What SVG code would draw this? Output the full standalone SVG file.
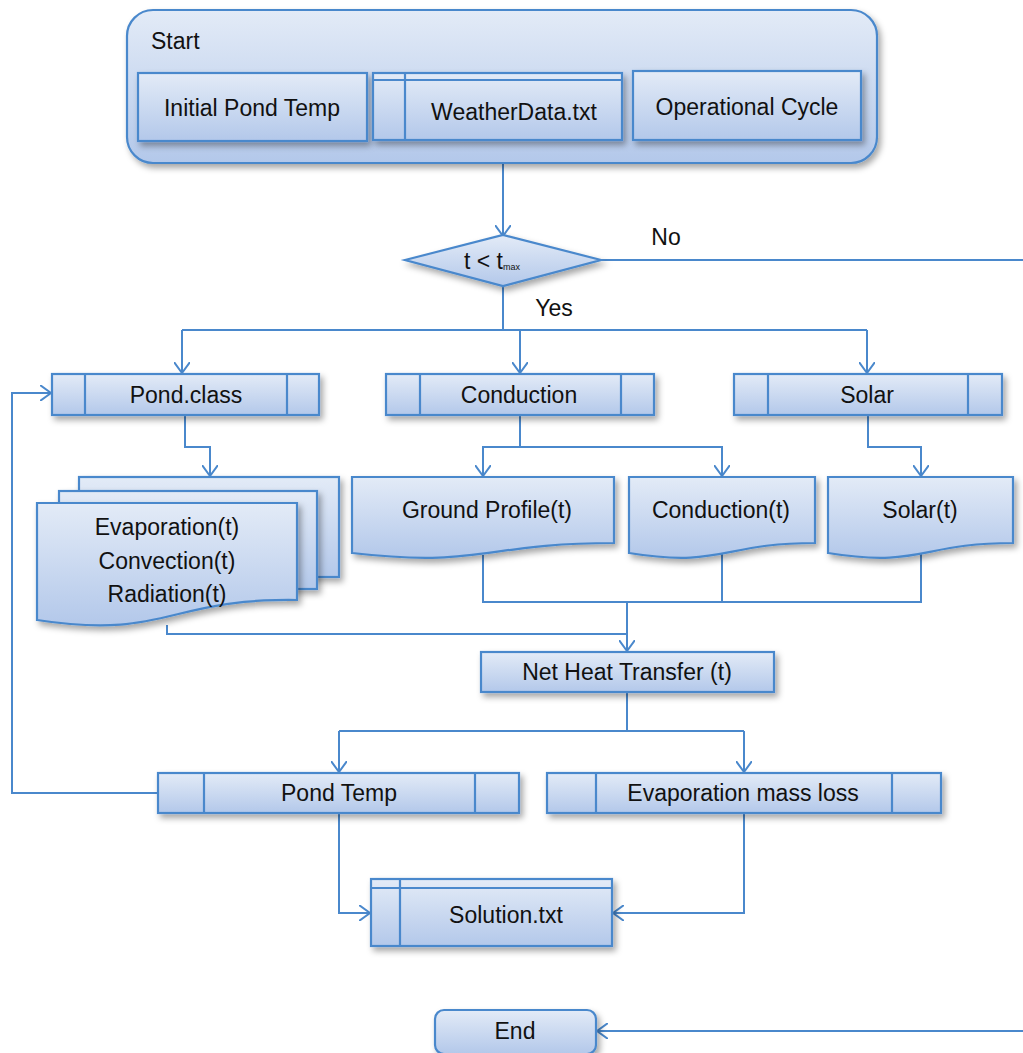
<svg xmlns="http://www.w3.org/2000/svg" width="1023" height="1053" viewBox="0 0 1023 1053">
<defs>
<linearGradient id="g" x1="0" y1="0" x2="0" y2="1">
<stop offset="0" stop-color="#e3ebf7"/>
<stop offset="1" stop-color="#b3c8ea"/>
</linearGradient>
<filter id="sh" x="-10%" y="-20%" width="130%" height="150%">
<feDropShadow dx="3" dy="4" stdDeviation="3" flood-color="#000" flood-opacity="0.35"/>
</filter>
<marker id="arr" viewBox="0 0 12 16" refX="11" refY="8" markerWidth="12" markerHeight="16" markerUnits="userSpaceOnUse" orient="auto">
<path d="M0,0 L11,8 L0,16" fill="none" stroke="#4a88cc" stroke-width="2"/>
</marker>
</defs>
<style>
.s{fill:url(#g);stroke:#4a88cc;stroke-width:2.2;filter:url(#sh)}
.l{fill:none;stroke:#4a88cc;stroke-width:2.2}
.c{fill:none;stroke:#4a88cc;stroke-width:2}
.t{font-family:"Liberation Sans",Arial,sans-serif;font-size:23px;fill:#111;text-anchor:middle}
</style>
<rect width="1023" height="1053" fill="#fff"/>

<g id="connectors" class="c">
<path d="M503,163 V236" marker-end="url(#arr)"/>
<path d="M601,260 H1024 V1031 H597" marker-end="url(#arr)"/>
<path d="M503,286 V330"/>
<path d="M182,330 H867"/>
<path d="M182,330 V373" marker-end="url(#arr)"/>
<path d="M520,330 V373" marker-end="url(#arr)"/>
<path d="M867,330 V373" marker-end="url(#arr)"/>
<path d="M185,415 V447 H210 V476" marker-end="url(#arr)"/>
<path d="M520,415 V447 H483 V476" marker-end="url(#arr)"/>
<path d="M520,447 H722 V476" marker-end="url(#arr)"/>
<path d="M868,415 V447 H921 V476" marker-end="url(#arr)"/>
<path d="M483,555 V602 H921 V545"/>
<path d="M722,545 V602"/>
<path d="M627,602 V651" marker-end="url(#arr)"/>
<path d="M167,625 V634 H627"/>
<path d="M627,692 V731"/>
<path d="M339,731 H744"/>
<path d="M339,731 V772" marker-end="url(#arr)"/>
<path d="M744,731 V772" marker-end="url(#arr)"/>
<path d="M158,793 H12 V393 H51" marker-end="url(#arr)"/>
<path d="M339,813 V913 H370" marker-end="url(#arr)"/>
<path d="M744,813 V913 H613" marker-end="url(#arr)"/>
</g>

<g id="start">
<rect class="s" x="127" y="10" width="750" height="153" rx="26"/>
<text class="t" x="151" y="49" style="text-anchor:start">Start</text>
</g>
<g id="initial-pond-temp">
<rect class="s" x="138" y="73" width="229" height="68"/>
<text class="t" x="252" y="116">Initial Pond Temp</text>
</g>
<g id="weatherdata">
<rect class="s" x="373" y="73" width="249" height="67"/>
<path class="l" d="M373,80 H622 M405,73 V140"/>
<text class="t" x="514" y="120">WeatherData.txt</text>
</g>
<g id="operational-cycle">
<rect class="s" x="633" y="71" width="228" height="69"/>
<text class="t" x="747" y="115">Operational Cycle</text>
</g>

<g id="decision">
<polygon class="s" points="405,260 503,235 601,260 503,286"/>
<text class="t" x="492" y="269">t &lt; t<tspan font-size="9" dy="1">max</tspan></text>
</g>
<text class="t" x="666" y="245">No</text>
<text class="t" x="554" y="316">Yes</text>

<g id="pond-class">
<rect class="s" x="52" y="374" width="267" height="41"/>
<path class="l" d="M85,374 V415 M287,374 V415"/>
<text class="t" x="186" y="403">Pond.class</text>
</g>
<g id="conduction">
<rect class="s" x="386" y="374" width="268" height="41"/>
<path class="l" d="M420,374 V415 M621,374 V415"/>
<text class="t" x="519" y="403">Conduction</text>
</g>
<g id="solar">
<rect class="s" x="734" y="374" width="268" height="41"/>
<path class="l" d="M768,374 V415 M968,374 V415"/>
<text class="t" x="867" y="403">Solar</text>
</g>

<g id="pond-outputs">
<rect class="s" x="79" y="477" width="260" height="100"/>
<rect class="s" x="59" y="491" width="258" height="98"/>
<path class="s" d="M37,503 H297 V600 C167,598 167,640 37,620 Z"/>
<text class="t" x="167" y="535">Evaporation(t)</text>
<text class="t" x="167" y="569">Convection(t)</text>
<text class="t" x="167" y="602">Radiation(t)</text>
</g>

<g id="ground-profile">
<path class="s" d="M352,477 H614 V543 C483,543 483,568 352,553 Z"/>
<text class="t" x="487" y="518">Ground Profile(t)</text>
</g>
<g id="conduction-t">
<path class="s" d="M629,477 H815 V543 C722,543 722,568 629,553 Z"/>
<text class="t" x="721" y="518">Conduction(t)</text>
</g>
<g id="solar-t">
<path class="s" d="M828,477 H1013 V543 C921,543 921,568 828,553 Z"/>
<text class="t" x="920" y="518">Solar(t)</text>
</g>

<g id="net-heat">
<rect class="s" x="481" y="652" width="293" height="40"/>
<text class="t" x="627" y="680">Net Heat Transfer (t)</text>
</g>

<g id="pond-temp">
<rect class="s" x="158" y="773" width="361" height="40"/>
<path class="l" d="M204,773 V813 M475,773 V813"/>
<text class="t" x="339" y="801">Pond Temp</text>
</g>
<g id="evap-mass-loss">
<rect class="s" x="547" y="773" width="394" height="40"/>
<path class="l" d="M596,773 V813 M892,773 V813"/>
<text class="t" x="743" y="801">Evaporation mass loss</text>
</g>

<g id="solution">
<rect class="s" x="371" y="879" width="241" height="67"/>
<path class="l" d="M371,888 H612 M400,879 V946"/>
<text class="t" x="506" y="923">Solution.txt</text>
</g>

<g id="end">
<rect class="s" x="435" y="1010" width="161" height="44" rx="9"/>
<text class="t" x="515" y="1039">End</text>
</g>
</svg>
